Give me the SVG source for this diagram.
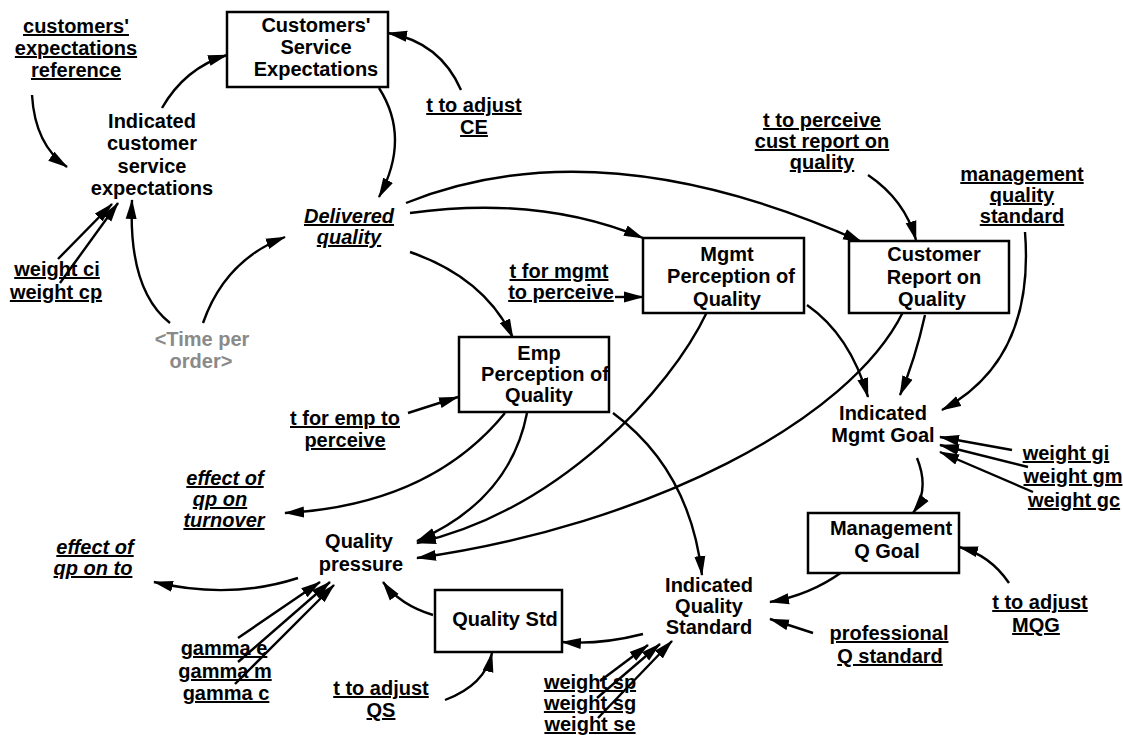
<svg xmlns="http://www.w3.org/2000/svg" width="1123" height="735" viewBox="0 0 1123 735">
  <style>
    .t { font-family: "Liberation Sans", Arial, sans-serif; font-size: 20px; font-weight: bold; text-anchor: middle; fill: #000; }
    .u { text-decoration: underline; text-decoration-skip-ink: none; text-decoration-thickness: 2px; }
    .i { font-style: italic; }
    .shadow { fill: #8a8a8a; }
    .box { fill: #fff; stroke: #000; stroke-width: 2.5; }
    .link { fill: none; stroke: #000; stroke-width: 2.4; marker-end: url(#ah); }
  </style>
  <defs>
    <marker id="ah" markerWidth="20" markerHeight="12" refX="19" refY="6" orient="auto" markerUnits="userSpaceOnUse">
      <path d="M0,0.5 L20,6 L0,11.5 z" fill="#000"/>
    </marker>
  </defs>
  <rect width="1123" height="735" fill="#fff"/>

  <!-- connectors -->
  <g id="connectors">
    <path class="link" d="M32,95 Q35,145 67,167"/>
    <path class="link" d="M162,108 Q185,68 227,55"/>
    <path class="link" d="M379,88 Q411,138 379,197"/>
    <path class="link" d="M461,90 Q440,42 388,33"/>
    <path class="link" d="M410,213 Q540,195 643,238"/>
    <path class="link" d="M406,203 Q600,125 862,242"/>
    <path class="link" d="M410,252 Q485,278 513,338"/>
    <path class="link" d="M170,323 Q128,290 132,200"/>
    <path class="link" d="M203,323 Q225,260 285,237"/>
    <path class="link" d="M58,259 L112,204"/>
    <path class="link" d="M60,283 L118,203"/>
    <path class="link" d="M408,413 L458,397"/>
    <path class="link" d="M615,297 L643,297"/>
    <path class="link" d="M868,175 Q905,200 916,240"/>
    <path class="link" d="M1025,232 Q1035,360 942,410"/>
    <path class="link" d="M925,315 Q915,360 900,395"/>
    <path class="link" d="M807,305 Q850,335 868,397"/>
    <path class="link" d="M903,312 C850,420 650,525 417,558"/>
    <path class="link" d="M707,312 C670,390 560,510 417,543"/>
    <path class="link" d="M527,413 Q510,500 417,541"/>
    <path class="link" d="M505,413 Q430,505 285,513"/>
    <path class="link" d="M613,413 Q690,470 702,575"/>
    <path class="link" d="M298,578 Q230,600 154,582"/>
    <path class="link" d="M238,638 L320,582"/>
    <path class="link" d="M238,662 L330,582"/>
    <path class="link" d="M235,684 L334,585"/>
    <path class="link" d="M433,615 Q400,605 383,582"/>
    <path class="link" d="M445,700 Q485,685 492,653"/>
    <path class="link" d="M643,634 Q600,645 562,642"/>
    <path class="link" d="M600,681 L648,645"/>
    <path class="link" d="M597,698 L660,644"/>
    <path class="link" d="M598,718 L672,641"/>
    <path class="link" d="M842,572 Q810,595 770,602"/>
    <path class="link" d="M813,633 L770,619"/>
    <path class="link" d="M1009,583 Q990,555 959,547"/>
    <path class="link" d="M917,458 Q930,490 913,513"/>
    <path class="link" d="M1012,450 L940,437"/>
    <path class="link" d="M1028,467 L940,445"/>
    <path class="link" d="M1033,492 L940,452"/>
  </g>

  <!-- nodes -->
  <g id="customers-expectations-reference">
    <text class="t u"><tspan x="76" y="33">customers'</tspan><tspan x="76" y="55">expectations</tspan><tspan x="76" y="77">reference</tspan></text>
  </g>
  <g id="customers-service-expectations">
    <rect class="box" x="227" y="12" width="161" height="75"/>
    <text class="t"><tspan x="316" y="32">Customers'</tspan><tspan x="316" y="54">Service</tspan><tspan x="316" y="76">Expectations</tspan></text>
  </g>
  <g id="indicated-customer-service-expectations">
    <text class="t"><tspan x="152" y="128">Indicated</tspan><tspan x="152" y="150">customer</tspan><tspan x="152" y="173">service</tspan><tspan x="152" y="195">expectations</tspan></text>
  </g>
  <g id="t-to-adjust-ce">
    <text class="t u"><tspan x="474" y="112">t to adjust</tspan><tspan x="474" y="134">CE</tspan></text>
  </g>
  <g id="delivered-quality">
    <text class="t u i"><tspan x="349" y="223">Delivered</tspan><tspan x="349" y="244">quality</tspan></text>
  </g>
  <g id="t-to-perceive-cust-report">
    <text class="t u"><tspan x="822" y="127">t to perceive</tspan><tspan x="822" y="148">cust report on</tspan><tspan x="822" y="169">quality</tspan></text>
  </g>
  <g id="management-quality-standard">
    <text class="t u"><tspan x="1022" y="181">management</tspan><tspan x="1022" y="202">quality</tspan><tspan x="1022" y="223">standard</tspan></text>
  </g>
  <g id="mgmt-perception-of-quality">
    <rect class="box" x="643" y="238" width="161" height="75"/>
    <text class="t"><tspan x="727" y="261">Mgmt</tspan><tspan x="731" y="283">Perception of</tspan><tspan x="727" y="306">Quality</tspan></text>
  </g>
  <g id="t-for-mgmt-to-perceive">
    <text class="t u"><tspan x="559" y="278">t for mgmt</tspan><tspan x="561" y="299">to perceive</tspan></text>
  </g>
  <g id="customer-report-on-quality">
    <rect class="box" x="849" y="241" width="160" height="72"/>
    <text class="t"><tspan x="934" y="261">Customer</tspan><tspan x="934" y="284">Report on</tspan><tspan x="932" y="306">Quality</tspan></text>
  </g>
  <g id="emp-perception-of-quality">
    <rect class="box" x="459" y="337" width="150" height="75"/>
    <text class="t"><tspan x="539" y="360">Emp</tspan><tspan x="545" y="381">Perception of</tspan><tspan x="539" y="402">Quality</tspan></text>
  </g>
  <g id="time-per-order">
    <text class="t shadow"><tspan x="202" y="346">&lt;Time per</tspan><tspan x="201" y="368">order&gt;</tspan></text>
  </g>
  <g id="weight-ci">
    <text class="t u" x="57" y="276">weight ci</text>
  </g>
  <g id="weight-cp">
    <text class="t u" x="56" y="299">weight cp</text>
  </g>
  <g id="t-for-emp-to-perceive">
    <text class="t u"><tspan x="345" y="425">t for emp to</tspan><tspan x="345" y="447">perceive</tspan></text>
  </g>
  <g id="effect-of-qp-on-turnover">
    <text class="t u i"><tspan x="225" y="485">effect of</tspan><tspan x="220" y="506">qp on</tspan><tspan x="224" y="527">turnover</tspan></text>
  </g>
  <g id="effect-of-qp-on-to">
    <text class="t u i"><tspan x="95" y="554">effect of</tspan><tspan x="93" y="575">qp on to</tspan></text>
  </g>
  <g id="quality-pressure">
    <text class="t"><tspan x="359" y="548">Quality</tspan><tspan x="361" y="571">pressure</tspan></text>
  </g>
  <g id="gamma-e">
    <text class="t u" x="224" y="655">gamma e</text>
  </g>
  <g id="gamma-m">
    <text class="t u" x="225" y="678">gamma m</text>
  </g>
  <g id="gamma-c">
    <text class="t u" x="226" y="700">gamma c</text>
  </g>
  <g id="t-to-adjust-qs">
    <text class="t u"><tspan x="381" y="695">t to adjust</tspan><tspan x="381" y="717">QS</tspan></text>
  </g>
  <g id="quality-std">
    <rect class="box" x="435" y="590" width="127" height="62"/>
    <text class="t" x="505" y="626">Quality Std</text>
  </g>
  <g id="indicated-quality-standard">
    <text class="t"><tspan x="709" y="592">Indicated</tspan><tspan x="709" y="613">Quality</tspan><tspan x="709" y="634">Standard</tspan></text>
  </g>
  <g id="weight-sp">
    <text class="t u" x="590" y="689">weight sp</text>
  </g>
  <g id="weight-sg">
    <text class="t u" x="590" y="710">weight sg</text>
  </g>
  <g id="weight-se">
    <text class="t u" x="590" y="731">weight se</text>
  </g>
  <g id="indicated-mgmt-goal">
    <text class="t"><tspan x="883" y="420">Indicated</tspan><tspan x="883" y="442">Mgmt Goal</tspan></text>
  </g>
  <g id="weight-gi">
    <text class="t u" x="1066" y="460">weight gi</text>
  </g>
  <g id="weight-gm">
    <text class="t u" x="1073" y="483">weight gm</text>
  </g>
  <g id="weight-gc">
    <text class="t u" x="1074" y="507">weight gc</text>
  </g>
  <g id="management-q-goal">
    <rect class="box" x="808" y="513" width="151" height="60"/>
    <text class="t"><tspan x="891" y="535">Management</tspan><tspan x="887" y="558">Q Goal</tspan></text>
  </g>
  <g id="t-to-adjust-mqg">
    <text class="t u"><tspan x="1040" y="609">t to adjust</tspan><tspan x="1036" y="632">MQG</tspan></text>
  </g>
  <g id="professional-q-standard">
    <text class="t u"><tspan x="889" y="640">professional</tspan><tspan x="890" y="663">Q standard</tspan></text>
  </g>
</svg>
